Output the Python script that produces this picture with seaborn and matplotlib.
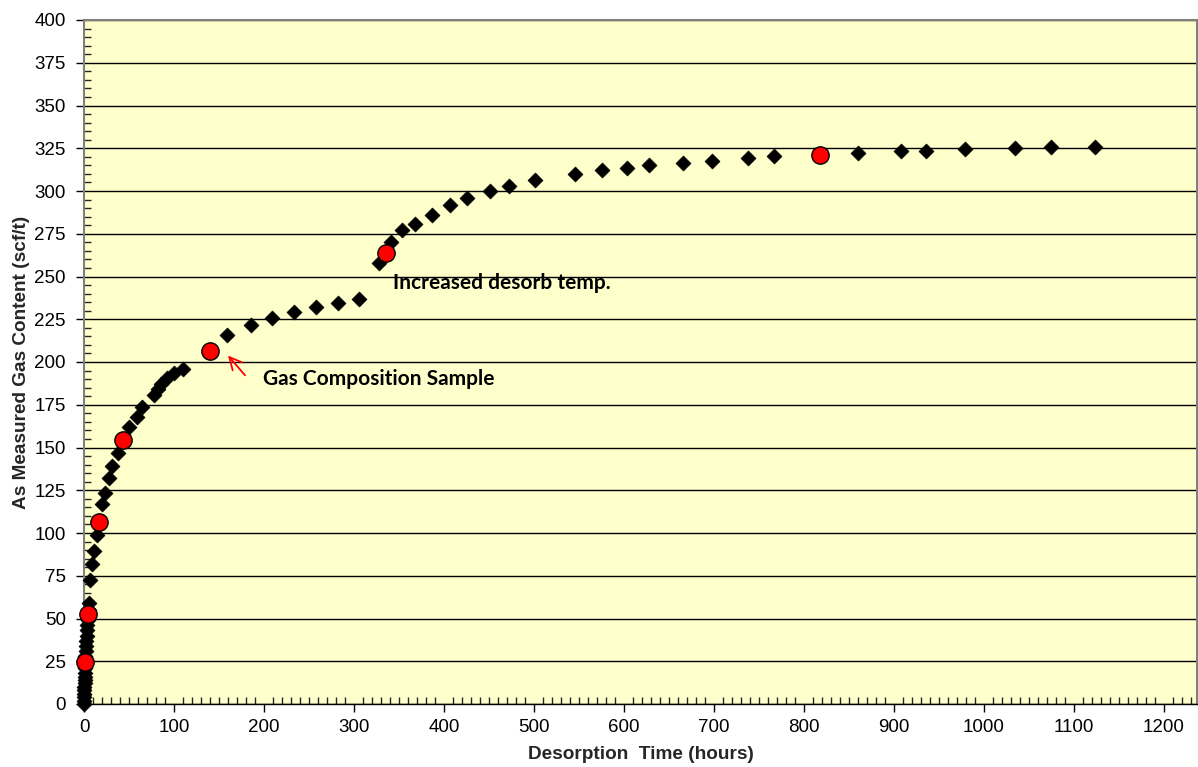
import matplotlib
matplotlib.use("Agg")
from matplotlib import pyplot as plt
from matplotlib.ticker import MultipleLocator
import pandas as pd
import seaborn as sns

# desorption readings (hours, scf/t)
hours = [0, 0.1, 0.2, 0.3, 0.4, 0.5, 0.6, 0.7, 0.8, 0.9, 1.1, 1.3, 1.6, 2.0,
         2.3, 2.6, 3.0, 3.3, 3.7, 4.1, 4.6, 5.2, 5.8, 6.7, 9.3, 11.5, 14,
         20.4, 23.3, 27.8, 31.5, 38, 50, 58.5, 65, 78, 82, 86, 92.6, 100, 110,
         158.5, 186, 208.5, 233, 257.4, 282.6, 306, 328, 340.7, 353.7, 367.8,
         387, 406.7, 426, 451, 472, 501, 546, 576, 603.7, 628, 666, 698,
         738.5, 767, 860, 908, 935.6, 979.6, 1034.8, 1075, 1124]
gas = [0, 2, 4, 6, 8, 10, 12, 14, 16, 18, 21, 24, 28, 31,
       34, 37, 40, 43, 46, 49, 52, 55, 59, 72.5, 82, 89.6, 98.8,
       117, 123.6, 132, 139.2, 146.6, 162.2, 167.7, 173.9, 180.7, 184, 187.1, 190.4, 193.4, 196,
       215.8, 221.6, 225.9, 229.4, 231.9, 234.7, 237, 258, 270.4, 277.2, 280.9,
       286, 291.8, 295.9, 300, 303, 306.2, 309.7, 312, 313.5, 315.2, 316.6, 317.8,
       319.1, 320.5, 322.4, 323.6, 323.6, 324.6, 325.1, 325.7, 325.7]

# gas composition sample times
sample_hours = [1, 4.8, 17, 43.7, 140, 335.6, 817.8]
sample_gas = [24.7, 52.6, 106.6, 154.4, 206.6, 263.9, 320.9]

df = pd.DataFrame({"hours": hours, "gas": gas})
samples = pd.DataFrame({"hours": sample_hours, "gas": sample_gas})

sns.set_style("white")
plt.rcParams['font.family'] = ['Liberation Sans', 'DejaVu Sans']

fig = plt.figure(figsize=(11.98, 7.67), dpi=100)
ax = fig.add_axes([84 / 1198, 1 - 704 / 767, 1113 / 1198, 684 / 767])
ax.set_facecolor("#FFFFCC")

sns.scatterplot(data=df, x="hours", y="gas", marker="D", s=58, color="black",
                edgecolor="black", linewidth=0.5, ax=ax, zorder=3, clip_on=False)
sns.scatterplot(data=samples, x="hours", y="gas", marker="o", s=155, color="#FF0000",
                edgecolor="black", linewidth=1.0, ax=ax, zorder=4, clip_on=False)

ax.set_xlim(0, 1237)
ax.set_ylim(0, 400)
ax.xaxis.set_major_locator(MultipleLocator(100))
ax.xaxis.set_minor_locator(MultipleLocator(10))
ax.yaxis.set_major_locator(MultipleLocator(25))
ax.yaxis.set_minor_locator(MultipleLocator(5))
ax.tick_params(which="major", direction="out", length=6, width=1, labelsize=13.5,
               colors="black", left=True, bottom=True)
ax.tick_params(axis="y", which="major", pad=7)
ax.tick_params(axis="x", which="major", pad=5)
ax.tick_params(which="minor", direction="in", length=5, width=1, left=True, bottom=True)
ax.set_axisbelow(True)
ax.grid(axis="y", which="major", color="black", linewidth=1)

for side in ["left", "top", "right"]:
    ax.spines[side].set_color("#808080")
    ax.spines[side].set_linewidth(1.5)
ax.spines["bottom"].set_color("black")
ax.spines["bottom"].set_linewidth(1)

ax.set_xlabel("Desorption  Time (hours)", fontsize=13.7, fontweight="bold", labelpad=7)
ax.set_ylabel("As Measured Gas Content (scf/t)", fontsize=13.7, fontweight="bold", labelpad=3)

note_font = ['Lato', 'DejaVu Sans']
ax.text(343, 246, "Increased desorb temp.", fontsize=15, fontweight="bold",
        family=note_font, va="center", ha="left", color="black")
ax.text(199, 190, "Gas Composition Sample", fontsize=15, fontweight="bold",
        family=note_font, va="center", ha="left", color="black")
ax.annotate("", xy=(158, 205), xytext=(181, 191),
            arrowprops=dict(arrowstyle="->", color="#FF0000", lw=1.3, mutation_scale=22))

fig.savefig("out.png", dpi=100)
